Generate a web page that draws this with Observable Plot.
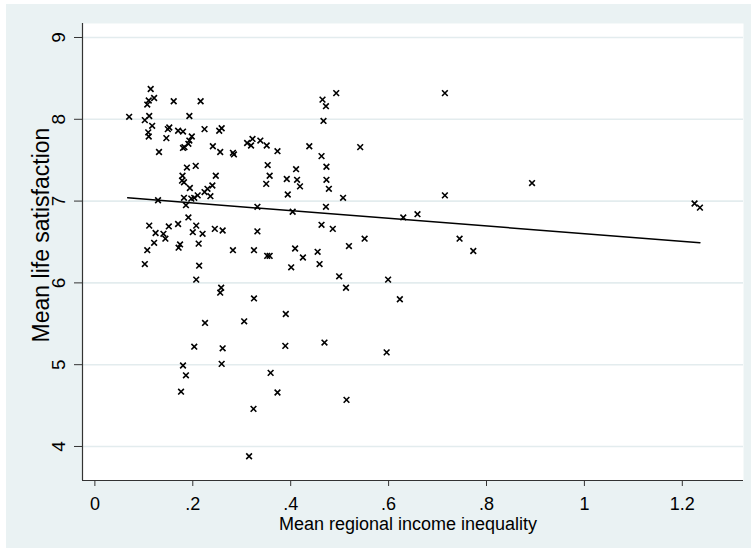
<!DOCTYPE html>
<html><head><meta charset="utf-8">
<script src="https://cdn.jsdelivr.net/npm/d3@7"></script>
<script src="https://cdn.jsdelivr.net/npm/@observablehq/plot@0.6"></script>
<style>
html,body{margin:0;padding:0;background:#fff;}
#wrap{position:relative;width:751px;height:550px;}
#bg{position:absolute;left:6px;top:4px;width:745px;height:544px;background:#eaf2f3;}
#chart{position:absolute;left:0;top:0;}
</style></head><body>
<div id="wrap"><div id="bg"></div><div id="chart"></div></div>
<script>
const inequality = [
 .114,.121,.110,.107,.161,.216,.070,.111,.102,.117,.193,.152,.149,.170,.180,.224,.254,.259,.109,.110,
 .146,.198,.193,.191,.183,.180,.241,.256,.131,.188,.206,.179,.178,.182,.247,.194,.240,.230,.224,.236,
 .210,.203,.197,.182,.129,.186,
 .493,.465,.472,.467,.322,.311,.319,.338,.351,.373,.438,.282,.284,.463,.353,.357,.350,.392,.411,.413,
 .419,.473,.473,.478,.394,.507,.332,.472,.404,
 .715,.542,.715,.893,.630,.659,
 .463,.486,.551,.519,.745,.773,.455,.425,.459,.499,.513,.599,.623,.469,.596,.514,
 .261,.332,.282,.325,.352,.357,.409,.401,.258,.256,.325,.390,.305,
 .191,.111,.124,.140,.151,.170,.207,.200,.220,.245,.144,.121,.174,.171,.212,.107,.102,.213,.207,.225,
 .203,.261,.389,.180,.259,.359,.186,.176,.373,.324,.315,
 1.225,1.236
];
const satisfaction = [
 8.37,8.26,8.23,8.18,8.22,8.22,8.03,8.04,7.99,7.92,8.04,7.90,7.88,7.86,7.85,7.88,7.86,7.89,7.84,7.79,
 7.77,7.79,7.74,7.70,7.66,7.65,7.67,7.60,7.60,7.41,7.43,7.31,7.25,7.23,7.31,7.16,7.19,7.15,7.11,7.06,
 7.07,7.04,7.03,7.04,7.01,6.95,
 8.32,8.24,8.16,7.98,7.76,7.71,7.68,7.74,7.68,7.61,7.67,7.59,7.57,7.55,7.44,7.31,7.21,7.27,7.39,7.26,
 7.18,7.42,7.26,7.15,7.08,7.04,6.93,6.93,6.87,
 8.32,7.66,7.07,7.22,6.80,6.84,
 6.71,6.66,6.54,6.45,6.54,6.39,6.38,6.31,6.23,6.08,5.94,6.04,5.80,5.27,5.15,4.57,
 6.64,6.63,6.40,6.40,6.33,6.33,6.42,6.19,5.94,5.88,5.81,5.62,5.53,
 6.80,6.70,6.61,6.60,6.69,6.72,6.70,6.62,6.60,6.66,6.54,6.49,6.47,6.43,6.48,6.40,6.23,6.21,6.04,5.51,
 5.22,5.20,5.23,4.99,5.01,4.90,4.87,4.67,4.66,4.46,3.88,
 6.97,6.92
];
// fitted line as drawn in the reference (end points)
const fitInequality = [0.067, 1.236];
const fitSatisfaction = [7.04, 6.49];

const xTicks = [0, 0.2, 0.4, 0.6, 0.8, 1, 1.2];
const xTickLabels = ["0", ".2", ".4", ".6", ".8", "1", "1.2"];
const yTicks = [4, 5, 6, 7, 8, 9];
const yTickLabels = ["4", "5", "6", "7", "8", "9"];
const xTitle = "Mean regional income inequality";
const yTitle = "Mean life satisfaction";
const xDomain = [-0.0253, 1.325];
const yDomain = [3.584, 9.171];

const data = inequality.map((x, i) => ({x, y: satisfaction[i]}));
const fit = fitInequality.map((x, i) => ({x, y: fitSatisfaction[i]}));
const font = "'Liberation Sans', Arial, sans-serif";

const plot = Plot.plot({
  width: 751, height: 550,
  marginLeft: 82, marginRight: 8, marginTop: 23, marginBottom: 70,
  style: {background: "transparent", fontFamily: font, fontSize: "18px", color: "#000"},
  x: {domain: xDomain},
  y: {domain: yDomain},
  marks: [
    Plot.frame({fill: "white", stroke: "none"}),
    Plot.gridY(yTicks, {stroke: "#e3ecee", strokeOpacity: 1, strokeWidth: 1.6}),
    Plot.ruleX([xDomain[0]], {stroke: "#333", strokeWidth: 1.2}),
    Plot.ruleY([yDomain[0]], {stroke: "#333", strokeWidth: 1.2}),
    Plot.axisX({ticks: xTicks, tickSize: 6, tickPadding: 11, fontSize: 18, stroke: "#333",
      tickFormat: d => xTickLabels[xTicks.indexOf(d)], label: null}),
    Plot.axisY({ticks: yTicks, tickSize: 8, stroke: "#333", tickFormat: () => "", label: null}),
    Plot.text(yTicks, {y: d => d, text: d => yTickLabels[yTicks.indexOf(d)], frameAnchor: "left",
      dx: -24, rotate: -90, textAnchor: "middle", lineAnchor: "middle", fontSize: 19, fill: "#000"}),
    Plot.text([yTitle], {frameAnchor: "left", dx: -41, dy: -17, rotate: -90, textAnchor: "middle",
      lineAnchor: "middle", fontSize: 23, fill: "#000"}),
    Plot.text([xTitle], {frameAnchor: "bottom", dy: 43.5, dx: -5, textAnchor: "middle",
      lineAnchor: "middle", fontSize: 18, fill: "#000"}),
    Plot.line(fit, {x: "x", y: "y", stroke: "#000", strokeWidth: 1.5}),
    Plot.dot(data, {x: "x", y: "y", symbol: "times", r: 2.7, stroke: "#000", strokeWidth: 1.6})
  ]
});
document.getElementById("chart").appendChild(plot);
</script>
</body></html>
